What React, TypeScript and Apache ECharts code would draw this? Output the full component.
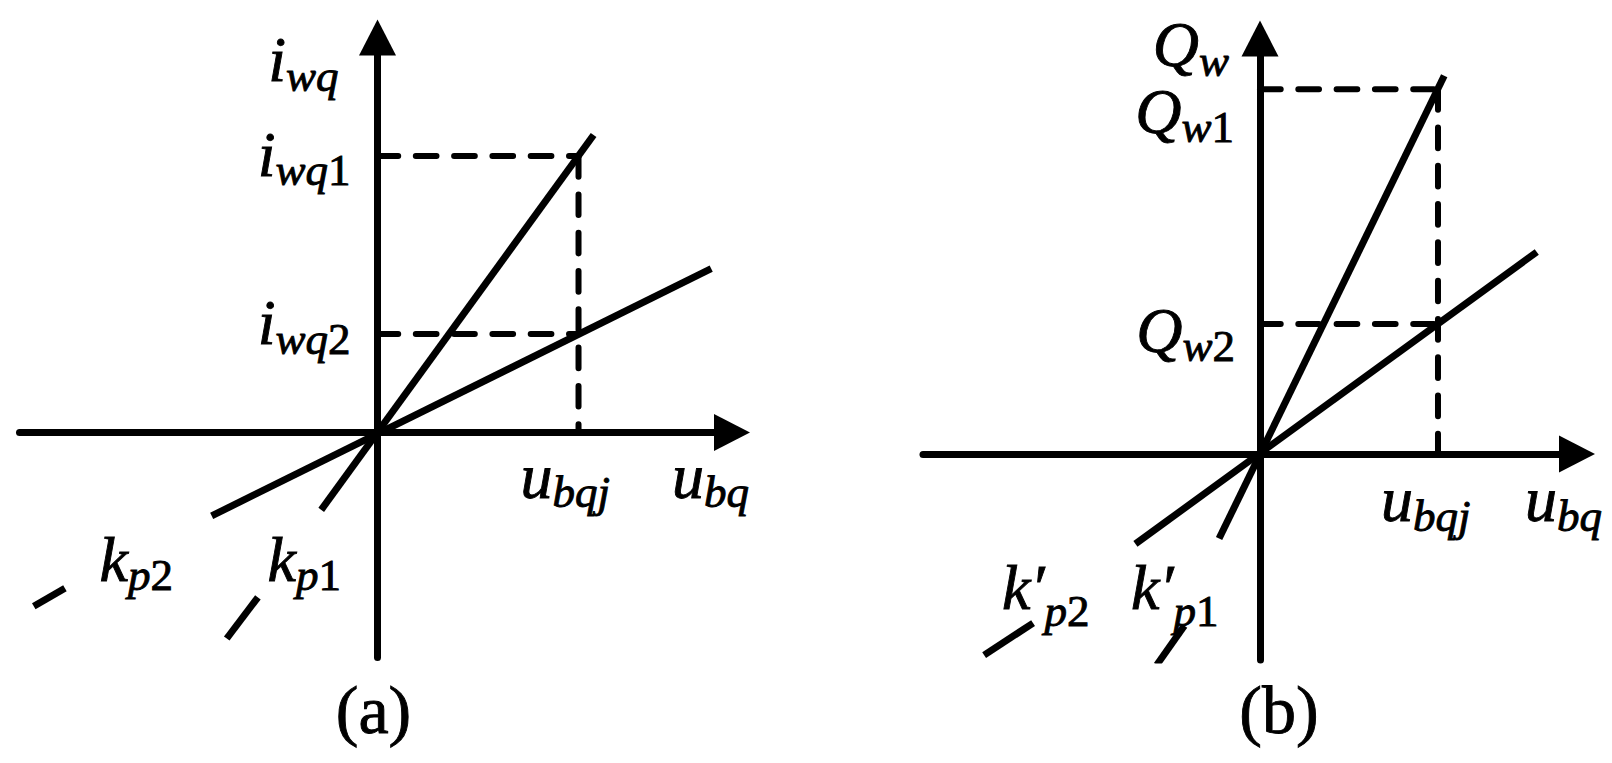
import React, { useEffect, useRef } from "react";
import * as echarts from "echarts";

// ---------- Panel (a): i_wq versus u_bq (units chosen so that u_bqj = 2) ----------
const A_UBQJ = 2;
const A_IWQ1 = 2.75;
const A_IWQ2 = 0.98;
const A_KP1_LINE = [[-0.56, -0.77], [2.15, 2.96]];
const A_KP1_TAIL = [[-1.5, -2.05], [-1.19, -1.64]];
const A_KP2_LINE = [[-1.65, -0.83], [3.32, 1.63]];
const A_KP2_TAIL = [[-3.42, -1.73], [-3.11, -1.55]];
const A_X_RANGE = [-3.562, 3.527];
const A_Y_RANGE = [-2.239, 3.93];

// ---------- Panel (b): Q_w versus u_bq ----------
const B_UBQJ = 2;
const B_QW1 = 4.1;
const B_QW2 = 1.46;
const B_KP1_LINE = [[-0.46, -0.95], [2.07, 4.25]];
const B_KP1_TAIL = [[-1.16, -2.37], [-0.85, -1.93]];
const B_KP2_LINE = [[-1.4, -1.01], [3.11, 2.27]];
const B_KP2_TAIL = [[-3.1, -2.26], [-2.55, -1.9]];
const B_X_RANGE = [-3.787, 3.562];
const B_Y_RANGE = [-2.315, 4.669];

const FONT = "'Times New Roman', 'Liberation Serif', serif";
const MAIN = 64;
const SUB = 45;
const TB = { stroke: "#000", lineWidth: 0.9 };

const rich = {
  m: { fontFamily: FONT, fontStyle: "italic", fontSize: MAIN, fill: "#000", ...TB },
  s: { fontFamily: FONT, fontStyle: "italic", fontSize: SUB, fill: "#000", padding: [32, 0, 0, 0], ...TB },
  d: { fontFamily: FONT, fontStyle: "normal", fontSize: SUB, fill: "#000", padding: [32, 0, 0, 0], ...TB },
  s2: { fontFamily: FONT, fontStyle: "italic", fontSize: SUB, fill: "#000", padding: [46, 0, 0, 0], ...TB },
  d2: { fontFamily: FONT, fontStyle: "normal", fontSize: SUB, fill: "#000", padding: [46, 0, 0, 0], ...TB },
  n: { fontFamily: FONT, fontStyle: "normal", fontSize: 68, fill: "#000", ...TB },
};

type Lbl = { g: number; at: number[]; text: string; align: string; dx: number; dy: number };
const LABELS: Lbl[] = [
  { g: 0, at: [0, A_Y_RANGE[1]], text: "{m|i}{s|wq}", align: "right", dx: -39, dy: 22 },
  { g: 0, at: [0, A_IWQ1], text: "{m|i}{s|wq}{d|1}", align: "right", dx: -27, dy: -2 },
  { g: 0, at: [0, A_IWQ2], text: "{m|i}{s|wq}{d|2}", align: "right", dx: -27, dy: -11 },
  { g: 0, at: [A_UBQJ, 0], text: "{m|u}{s|bqj}", align: "left", dx: -58, dy: 44 },
  { g: 0, at: [A_X_RANGE[1], 0], text: "{m|u}{s|bq}", align: "left", dx: -60, dy: 44 },
  { g: 0, at: [0, 0], text: "{m|k}{s|p}{d|2}", align: "left", dx: -278, dy: 127 },
  { g: 0, at: [0, 0], text: "{m|k}{s|p}{d|1}", align: "left", dx: -110, dy: 127 },
  { g: 0, at: [0, 0], text: "{n|(a)}", align: "center", dx: -4, dy: 278 },
  { g: 1, at: [0, B_Y_RANGE[1]], text: "{m|Q}{s|w}", align: "right", dx: -31, dy: 6 },
  { g: 1, at: [0, B_QW1], text: "{m|Q}{s|w}{d|1}", align: "right", dx: -26, dy: 22 },
  { g: 1, at: [0, B_QW2], text: "{m|Q}{s|w}{d|2}", align: "right", dx: -25, dy: 6 },
  { g: 1, at: [B_UBQJ, 0], text: "{m|u}{s|bqj}", align: "left", dx: -57, dy: 46 },
  { g: 1, at: [B_X_RANGE[1], 0], text: "{m|u}{s|bq}", align: "left", dx: -52, dy: 46 },
  { g: 1, at: [0, 0], text: "{m|k\u2032}{s2|p}{d2|2}", align: "left", dx: -258, dy: 134 },
  { g: 1, at: [0, 0], text: "{m|k\u2032}{s2|p}{d2|1}", align: "left", dx: -129, dy: 134 },
  { g: 1, at: [0, 0], text: "{n|(b)}", align: "center", dx: 19, dy: 256.5 },
];

const solid = (g: number, data: number[][]) => ({
  type: "line",
  xAxisIndex: g,
  yAxisIndex: g,
  data,
  symbol: "none",
  silent: true,
  lineStyle: { color: "#000", width: 7, cap: "butt" },
});
const dashed = (g: number, data: number[][]) => ({
  type: "line",
  xAxisIndex: g,
  yAxisIndex: g,
  data,
  symbol: "none",
  silent: true,
  lineStyle: { color: "#000", width: 6, type: [20.7, 17.6], cap: "round" },
});

const axisCommon = {
  type: "value",
  axisLabel: { show: false },
  axisTick: { show: false },
  splitLine: { show: false },
  axisLine: {
    show: true,
    onZero: true,
    symbol: ["none", "triangle"],
    symbolSize: [37, 36],
    lineStyle: { color: "#000", width: 7 },
  },
};

export default function App() {
  const ref = useRef<HTMLDivElement>(null);
  useEffect(() => {
    if (!ref.current) return;
    const chart = echarts.init(ref.current, null, { renderer: "svg" });
    const option: any = {
      animation: false,
      backgroundColor: "#fff",
      grid: [
        { left: 19.5, right: 880, top: 37.5, bottom: 105.5 },
        { left: 923, right: 35, top: 38.5, bottom: 103 },
      ],
      xAxis: [
        { ...axisCommon, gridIndex: 0, min: A_X_RANGE[0], max: A_X_RANGE[1] },
        { ...axisCommon, gridIndex: 1, min: B_X_RANGE[0], max: B_X_RANGE[1] },
      ],
      yAxis: [
        { ...axisCommon, gridIndex: 0, min: A_Y_RANGE[0], max: A_Y_RANGE[1] },
        { ...axisCommon, gridIndex: 1, min: B_Y_RANGE[0], max: B_Y_RANGE[1] },
      ],
      series: [
        dashed(0, [[0, A_IWQ1], [A_UBQJ, A_IWQ1]]),
        dashed(0, [[0, A_IWQ2], [A_UBQJ, A_IWQ2]]),
        dashed(0, [[A_UBQJ, A_IWQ1], [A_UBQJ, 0]]),
        solid(0, A_KP1_LINE),
        solid(0, A_KP1_TAIL),
        solid(0, A_KP2_LINE),
        solid(0, A_KP2_TAIL),
        dashed(1, [[0, B_QW1], [B_UBQJ, B_QW1]]),
        dashed(1, [[0, B_QW2], [B_UBQJ, B_QW2]]),
        dashed(1, [[B_UBQJ, B_QW1], [B_UBQJ, 0]]),
        solid(1, B_KP1_LINE),
        solid(1, B_KP1_TAIL),
        solid(1, B_KP2_LINE),
        solid(1, B_KP2_TAIL),
      ],
    };
    chart.setOption(option);
    const graphic = LABELS.map((l) => {
      const p = chart.convertToPixel({ xAxisIndex: l.g, yAxisIndex: l.g }, l.at) as number[];
      return {
        type: "text",
        x: p[0] + l.dx,
        y: p[1] + l.dy,
        silent: true,
        style: {
          text: l.text,
          rich,
          align: l.align,
          verticalAlign: "middle",
          fill: "#000",
        },
      };
    });
    chart.setOption({ graphic });
    return () => chart.dispose();
  }, []);
  return (
    <div
      ref={ref}
      style={{ position: "fixed", left: 0, top: 0, width: 1612, height: 763, background: "#fff" }}
    />
  );
}
